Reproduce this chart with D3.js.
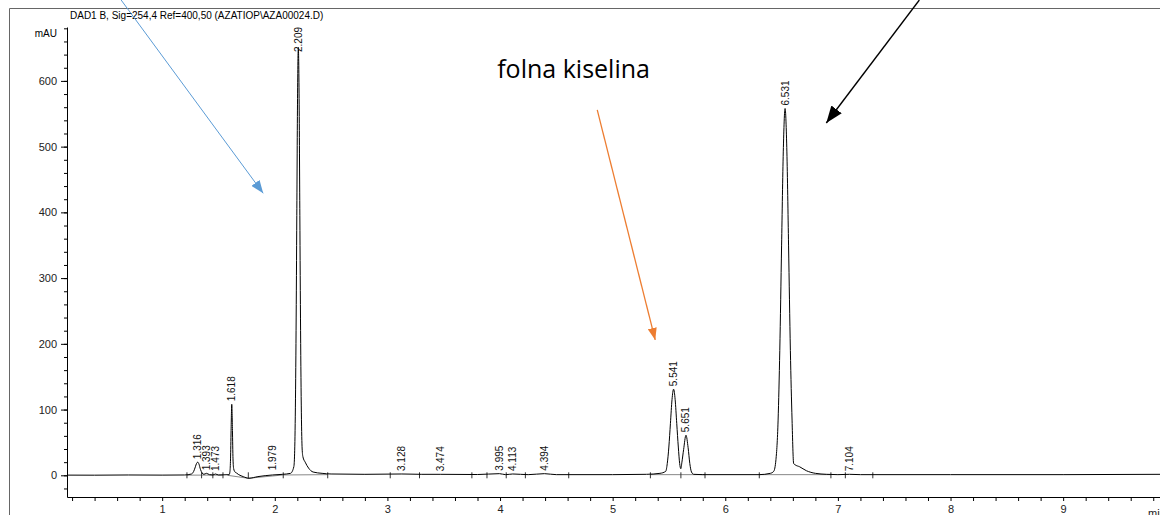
<!DOCTYPE html>
<html>
<head>
<meta charset="utf-8">
<script src="https://cdn.jsdelivr.net/npm/d3@7"></script>
<style>
  body { margin: 0; background: #fff; }
  svg { display: block; font-family: "Liberation Sans", Arial, sans-serif; }
</style>
</head>
<body>
<script>
// DAD1 B chromatogram — trace (time in min, signal in mAU)
const traceTime = [
  0.155, 0.40, 0.70, 1.00, 1.20, 1.26, 1.28, 1.295, 1.305, 1.316, 1.327, 1.34, 1.355, 1.37,
  1.393, 1.42, 1.45, 1.473, 1.50, 1.595, 1.602, 1.607, 1.612, 1.618, 1.624, 1.629, 1.635,
  1.647, 1.66, 1.68, 1.72, 1.77, 1.85, 1.979, 2.07, 2.14, 2.169, 2.175, 2.182, 2.189, 2.1955,
  2.202, 2.209, 2.216, 2.2225, 2.229, 2.236, 2.243, 2.25, 2.27, 2.30, 2.34, 2.42, 2.50, 2.80,
  3.128, 3.30, 3.474, 3.80, 3.995, 4.05, 4.113, 4.25, 4.394, 4.50, 5.00, 5.30, 5.42, 5.471,
  5.485, 5.499, 5.513, 5.527, 5.541, 5.555, 5.569, 5.583, 5.595, 5.605, 5.615, 5.63, 5.651,
  5.67, 5.685, 5.70, 5.72, 5.80, 6.30, 6.40, 6.43, 6.45, 6.469, 6.484, 6.50, 6.515, 6.531,
  6.547, 6.562, 6.578, 6.593, 6.607, 6.62, 6.66, 6.72, 6.80, 6.90, 7.00, 7.104, 7.20, 8.00,
  9.00, 9.86
];
const traceValue = [
  0.3, 0.2, 0.5, 0.3, 0.5, 2, 6, 13, 18, 20, 17, 9, 3.5, 1.5,
  3, 1, 0.5, 2, 0.5, 1, 6, 25, 68, 108, 68, 25, 10,
  5, 3.5, 1, -2, -4.5, -2, 0.5, 1.5, 3, 13, 28, 90, 220, 395,
  573, 651, 573, 395, 220, 95, 40, 28, 20, 11, 5, 3, 2, 1.5,
  2, 1.5, 1.5, 1.2, 2.5, 1, 2, 1, 2.5, 1, 1, 1.5, 3, 6,
  18, 43, 79, 115, 131, 115, 79, 43, 18, 10, 20, 39, 61,
  42, 18, 5, 1.5, 1, 1, 3, 6, 24, 84, 190, 349, 492, 558,
  492, 349, 190, 84, 18, 16, 13, 7, 3, 1.5, 1, 1.5, 1, 1,
  1, 1.5
];

// labelled peaks (retention time, apex height)
const peakTimes = [1.316, 1.393, 1.473, 1.618, 1.979, 2.209, 3.128, 3.474, 3.995, 4.113, 4.394, 5.541, 5.651, 6.531, 7.104];
const peakHeights = [20, 3, 2, 108, 3, 651, 2, 1.5, 2.5, 2, 2.5, 131, 61, 558, 1.5];

// integration marks and baseline
const integrationMarks = [1.22, 1.35, 1.45, 1.54, 1.765, 2.075, 2.47, 3.025, 3.285, 3.75, 3.884, 4.055, 4.225, 4.61, 5.335, 5.606, 5.82, 6.302, 6.938, 7.066, 7.31];
const baselineSegments = [
  [[1.22, 0.3], [1.54, 0.3]],
  [[1.58, 0], [1.765, -4.5], [2.075, 0.5], [2.47, 1]],
  [[5.335, 1], [5.82, 1]],
  [[6.302, 1], [6.938, 1]]
];

const xMajor = [1, 2, 3, 4, 5, 6, 7, 8, 9];
const yMajor = [0, 100, 200, 300, 400, 500, 600];

const title = 'DAD1 B, Sig=254,4 Ref=400,50 (AZATIOP\\AZA00024.D)';

// annotations (in data units)
const annotations = [
  { from: [0.636, 723], to: [1.897, 429], color: '#5B9BD5', width: 1, id: 'blue' },
  { from: [4.863, 556], to: [5.378, 206], color: '#ED7D31', width: 1.3, id: 'orange' },
  { from: [7.723, 723], to: [6.897, 536], color: '#000000', width: 1.4, id: 'black' }
];
const noteText = { t: 3.975, v: 604, text: 'folna kiselina' };

const W = 1160, H = 515;
const svg = d3.select('body').append('svg').attr('width', W).attr('height', H);

const x = d3.scaleLinear().domain([0.155, 9.86]).range([67, 1160]);
const y = d3.scaleLinear().domain([-33, 682]).range([497, 27]);

// outer frame (left + top)
svg.append('path')
  .attr('d', `M9.5,${H} V8.5 H${W}`)
  .attr('fill', 'none')
  .attr('stroke', '#666')
  .attr('stroke-width', 1);

svg.append('text')
  .attr('x', 70).attr('y', 19)
  .attr('font-size', '10px')
  .attr('fill', '#000')
  .text(title);

// y axis
const yMinor = d3.range(-20, 681, 20);
svg.append('g')
  .attr('transform', 'translate(67,0)')
  .call(d3.axisLeft(y).tickValues(yMinor).tickSize(3).tickSizeOuter(0).tickFormat(''))
  .call(g => g.select('.domain').remove());
svg.append('g')
  .attr('transform', 'translate(67,0)')
  .call(d3.axisLeft(y).tickValues(yMajor).tickSize(6).tickSizeOuter(0).tickPadding(4))
  .call(g => g.selectAll('text').attr('font-size', '11px').attr('fill', '#222').attr('font-family', null));
svg.append('text')
  .attr('x', 57).attr('y', 37)
  .attr('text-anchor', 'end')
  .attr('font-size', '10px')
  .text('mAU');

// x axis
const xTicks = d3.range(1, 50).map(i => i * 0.2);
svg.append('g')
  .attr('transform', 'translate(0,497)')
  .call(d3.axisBottom(x).tickValues(xTicks).tickSize(4).tickSizeOuter(0).tickPadding(4)
    .tickFormat(d => xMajor.some(m => Math.abs(m - d) < 1e-6) ? Math.round(d) : ''))
  .call(g => g.selectAll('text').attr('font-size', '11px').attr('fill', '#222').attr('font-family', null));
svg.append('text')
  .attr('x', 1148).attr('y', 517)
  .attr('font-size', '11px')
  .attr('fill', '#222')
  .text('min');

// integration baseline (gray)
const line = d3.line().x(d => x(d[0])).y(d => y(d[1]));
baselineSegments.forEach(seg => {
  svg.append('path')
    .attr('d', line(seg))
    .attr('fill', 'none')
    .attr('stroke', '#888')
    .attr('stroke-width', 1);
});
integrationMarks.forEach(t => {
  svg.append('line')
    .attr('x1', x(t)).attr('x2', x(t))
    .attr('y1', y(0) - 3).attr('y2', y(0) + 3)
    .attr('stroke', '#333')
    .attr('stroke-width', 1);
});

// signal trace
const trace = traceTime.map((t, i) => [t, traceValue[i]]);
svg.append('path')
  .datum(trace)
  .attr('d', d3.line().x(d => x(d[0])).y(d => y(d[1])).curve(d3.curveMonotoneX))
  .attr('fill', 'none')
  .attr('stroke', '#000')
  .attr('stroke-width', 1);

// peak labels, rotated, clamped to plot top
peakTimes.forEach((t, i) => {
  const label = t.toFixed(3);
  const textLen = 25;
  const startY = Math.max(y(peakHeights[i]) - 3, y.range()[1] + textLen);
  svg.append('text')
    .attr('transform', `translate(${x(t)},${startY}) rotate(-90)`)
    .attr('dy', '0.35em')
    .attr('font-size', '10px')
    .attr('fill', '#111')
    .text(label);
});

// arrows
const defs = svg.append('defs');
const headSize = { blue: [13, 10], orange: [12, 9], black: [17, 13] };
annotations.forEach(a => {
  const [len, wid] = headSize[a.id];
  defs.append('marker')
    .attr('id', 'head-' + a.id)
    .attr('markerUnits', 'userSpaceOnUse')
    .attr('viewBox', `0 0 ${len} ${wid}`)
    .attr('refX', len).attr('refY', wid / 2)
    .attr('markerWidth', len).attr('markerHeight', wid)
    .attr('orient', 'auto')
    .append('path')
    .attr('d', `M0,0 L${len},${wid / 2} L0,${wid} z`)
    .attr('fill', a.color);
  svg.append('line')
    .attr('x1', x(a.from[0])).attr('y1', y(a.from[1]))
    .attr('x2', x(a.to[0])).attr('y2', y(a.to[1]))
    .attr('stroke', a.color)
    .attr('stroke-width', a.width)
    .attr('marker-end', `url(#head-${a.id})`);
});

svg.append('text')
  .attr('x', x(noteText.t)).attr('y', y(noteText.v))
  .attr('font-family', '"Open Sans", sans-serif')
  .attr('font-size', '25px')
  .attr('fill', '#000')
  .text(noteText.text);
</script>
</body>
</html>
